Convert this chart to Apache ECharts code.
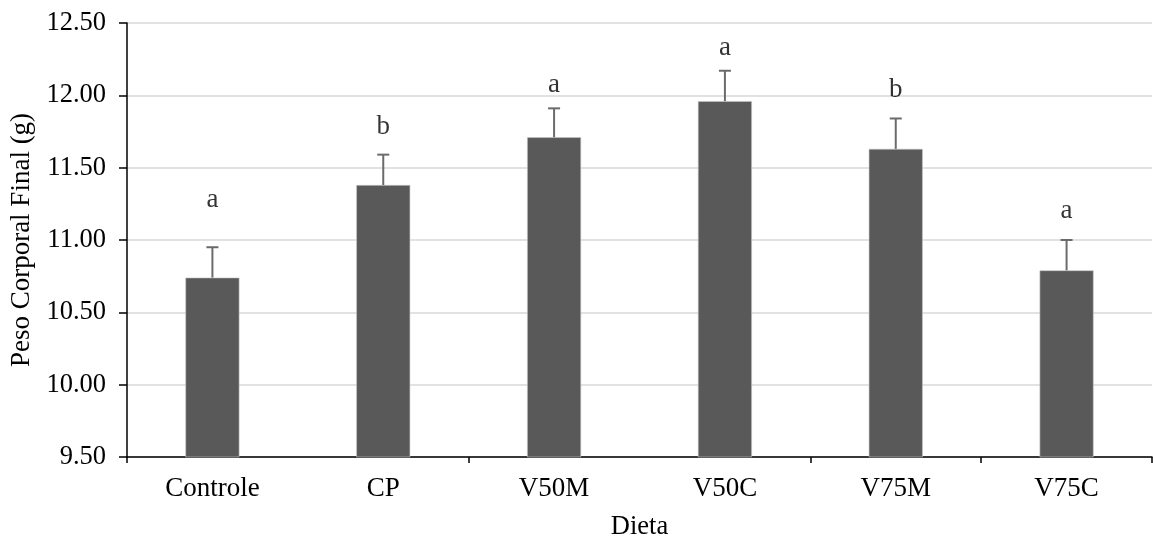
<!DOCTYPE html>
<html>
<head>
<meta charset="utf-8">
<script src="https://cdn.jsdelivr.net/npm/echarts@6/dist/echarts.min.js"></script>
<style>
  html, body { margin: 0; padding: 0; background: #fff; }
  #chart { width: 1153px; height: 539px; }
</style>
</head>
<body>
<div id="chart"></div>
<script>
// Diet groups and final body weight (g)
const categories = ['Controle', 'CP', 'V50M', 'V50C', 'V75M', 'V75C'];
const meanWeight = [10.74, 11.38, 11.71, 11.96, 11.63, 10.79];
const stdError = [0.21, 0.21, 0.20, 0.21, 0.21, 0.21];
// Significance letters and the height at which each is written
const letters = ['a', 'b', 'a', 'a', 'b', 'a'];
const letterHeight = [11.28, 11.78, 12.07, 12.33, 12.04, 11.20];
const yTicks = { min: 9.5, max: 12.5, step: 0.5 };

const FONT = "'Liberation Serif', 'Times New Roman', serif";
const chart = echarts.init(document.getElementById('chart'), null, { renderer: 'canvas' });

chart.setOption({
  animation: false,
  backgroundColor: '#ffffff',
  grid: { left: 127, right: 1, top: 23, bottom: 82, containLabel: false, outerBoundsMode: 'none' },
  xAxis: {
    type: 'category',
    data: categories,
    boundaryGap: true,
    name: 'Dieta',
    nameLocation: 'middle',
    nameGap: 57,
    nameTextStyle: { fontFamily: FONT, fontSize: 26.5, color: '#000' },
    axisLine: { lineStyle: { color: '#000', width: 1.5 } },
    axisTick: { show: true, interval: 1, length: 6, inside: false, lineStyle: { color: '#000', width: 1.5 } },
    axisLabel: { interval: 0, margin: 18, fontFamily: FONT, fontSize: 27, color: '#000' },
    splitLine: { show: false }
  },
  yAxis: {
    type: 'value',
    min: yTicks.min,
    max: yTicks.max,
    interval: yTicks.step,
    name: 'Peso Corporal Final (g)',
    nameLocation: 'middle',
    nameGap: 89,
    nameTextStyle: { fontFamily: FONT, fontSize: 27, color: '#000' },
    axisLine: { show: true, lineStyle: { color: '#000', width: 1.5 } },
    axisTick: { show: true, length: 8, lineStyle: { color: '#000', width: 1.5 } },
    axisLabel: {
      margin: 21, fontFamily: FONT, fontSize: 26.5, color: '#000',
      formatter: v => v.toFixed(2)
    },
    splitLine: { show: true, lineStyle: { color: '#d9d9d9', width: 1.5 } }
  },
  series: [
    {
      type: 'bar',
      data: meanWeight,
      barWidth: 54,
      itemStyle: { color: '#595959', borderColor: '#c8c8c8', borderWidth: 0.6 },
      z: 2
    },
    {
      // upper error bars with caps
      type: 'custom',
      data: meanWeight.map((m, i) => [i, m, m + stdError[i]]),
      z: 3,
      renderItem: function (params, api) {
        const base = api.coord([api.value(0), api.value(1)]);
        const top = api.coord([api.value(0), api.value(2)]);
        const half = 6;
        const style = { stroke: '#6b6b6b', lineWidth: 2 };
        return {
          type: 'group',
          children: [
            { type: 'line', shape: { x1: base[0], y1: base[1], x2: top[0], y2: top[1] }, style: style },
            { type: 'line', shape: { x1: top[0] - half, y1: top[1], x2: top[0] + half, y2: top[1] }, style: style }
          ]
        };
      }
    },
    {
      // significance letters
      type: 'scatter',
      data: letterHeight.map((h, i) => [i, h]),
      symbolSize: 1,
      itemStyle: { color: 'rgba(0,0,0,0)' },
      z: 4,
      label: {
        show: true,
        position: 'inside',
        formatter: p => letters[p.dataIndex],
        fontFamily: FONT,
        fontSize: 27,
        color: '#000'
      }
    }
  ]
});
</script>
</body>
</html>
